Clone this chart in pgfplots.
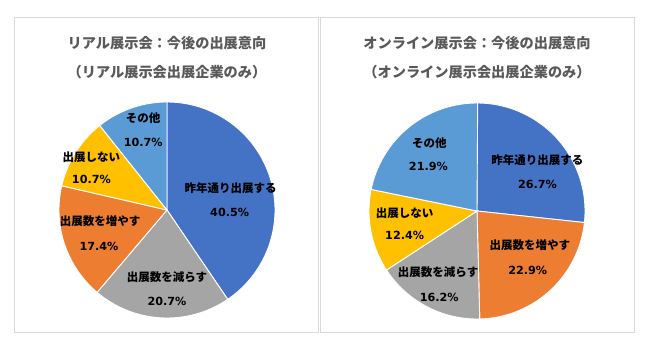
\documentclass[border=0pt]{standalone}
\usepackage{fontspec}
\usepackage{pgfplots}
\pgfplotsset{compat=1.18}
\newfontfamily\jp{Noto Sans CJK JP}
\newfontfamily\num{DejaVu Sans}
\definecolor{cBlue}{HTML}{4472C4}
\definecolor{cOrange}{HTML}{ED7D31}
\definecolor{cGray}{HTML}{A5A5A5}
\definecolor{cYellow}{HTML}{FFC000}
\definecolor{cLBlue}{HTML}{5B9BD5}
\definecolor{cTitle}{HTML}{595959}
\definecolor{cBorder}{HTML}{D9D9D9}
% slice: colour, cumulative start (%), value (%)
\newcommand{\slice}[3]{%
  \addplot[fill=#1, draw=white, line width=0.9pt, domain={90-3.6*(#2+#3)}:{90-3.6*(#2)}, samples=90, variable=\t]
    ({cos(\t)},{sin(\t)}) -- (axis cs:0,0) -- cycle;
}
\newcommand{\lab}[4]{% x, y1, y2, text
  \node[font=\jp\bfseries\fontsize{11.5}{12}\selectfont, inner sep=0pt] at (axis cs:#1,#2) {#4};
}
\newcommand{\pct}[3]{%
  \node[font=\num\bfseries\fontsize{11.2}{12}\selectfont, inner sep=0pt] at (axis cs:#1,#2) {#3\%};
}
\begin{document}
\begin{tikzpicture}
\path[use as bounding box] (0,0) rectangle (650pt,349pt);
\draw[cBorder, line width=0.8pt] (14pt,17pt) rectangle (318pt,332pt);
\draw[cBorder, line width=0.8pt] (320pt,17pt) rectangle (634pt,332pt);
% titles
\node[font=\jp\bfseries\fontsize{14.2}{15}\selectfont, text=cTitle, inner sep=0pt] at (167pt,306pt) {リアル展示会：今後の出展意向};
\node[font=\jp\bfseries\fontsize{14.2}{15}\selectfont, text=cTitle, inner sep=0pt] at (167pt,277pt) {（リアル展示会出展企業のみ）};
\node[font=\jp\bfseries\fontsize{14.2}{15}\selectfont, text=cTitle, inner sep=0pt] at (477pt,306pt) {オンライン展示会：今後の出展意向};
\node[font=\jp\bfseries\fontsize{14.2}{15}\selectfont, text=cTitle, inner sep=0pt] at (477pt,277pt) {（オンライン展示会出展企業のみ）};
% left pie
\begin{axis}[at={(167pt,139pt)}, anchor=center, width=216pt, height=216pt, scale only axis,
  xmin=-1, xmax=1, ymin=-1, ymax=1, hide axis, clip=false]
\slice{cBlue}{0}{40.5}
\slice{cGray}{40.5}{20.7}
\slice{cOrange}{61.2}{17.4}
\slice{cYellow}{78.6}{10.7}
\slice{cLBlue}{89.3}{10.7}
\lab{0.59}{0.20}{}{昨年通り出展する}
\pct{0.58}{-0.02}{40.5}
\lab{0.0}{-0.62}{}{出展数を減らす}
\pct{0.0}{-0.85}{20.7}
\lab{-0.62}{-0.10}{}{出展数を増やす}
\pct{-0.63}{-0.34}{17.4}
\lab{-0.70}{0.49}{}{出展しない}
\pct{-0.70}{0.28}{10.7}
\lab{-0.22}{0.85}{}{その他}
\pct{-0.22}{0.63}{10.7}
\end{axis}
% right pie
\begin{axis}[at={(477pt,138pt)}, anchor=center, width=216pt, height=216pt, scale only axis,
  xmin=-1, xmax=1, ymin=-1, ymax=1, hide axis, clip=false]
\slice{cBlue}{0}{26.7}
\slice{cOrange}{26.7}{22.9}
\slice{cGray}{49.6}{16.2}
\slice{cYellow}{65.8}{12.4}
\slice{cLBlue}{78.2}{21.9}
\lab{0.56}{0.47}{}{昨年通り出展する}
\pct{0.56}{0.25}{26.7}
\lab{0.49}{-0.32}{}{出展数を増やす}
\pct{0.47}{-0.55}{22.9}
\lab{-0.36}{-0.57}{}{出展数を減らす}
\pct{-0.35}{-0.80}{16.2}
\lab{-0.67}{-0.02}{}{出展しない}
\pct{-0.67}{-0.23}{12.4}
\lab{-0.44}{0.63}{}{その他}
\pct{-0.45}{0.41}{21.9}
\end{axis}
\end{tikzpicture}
\end{document}
